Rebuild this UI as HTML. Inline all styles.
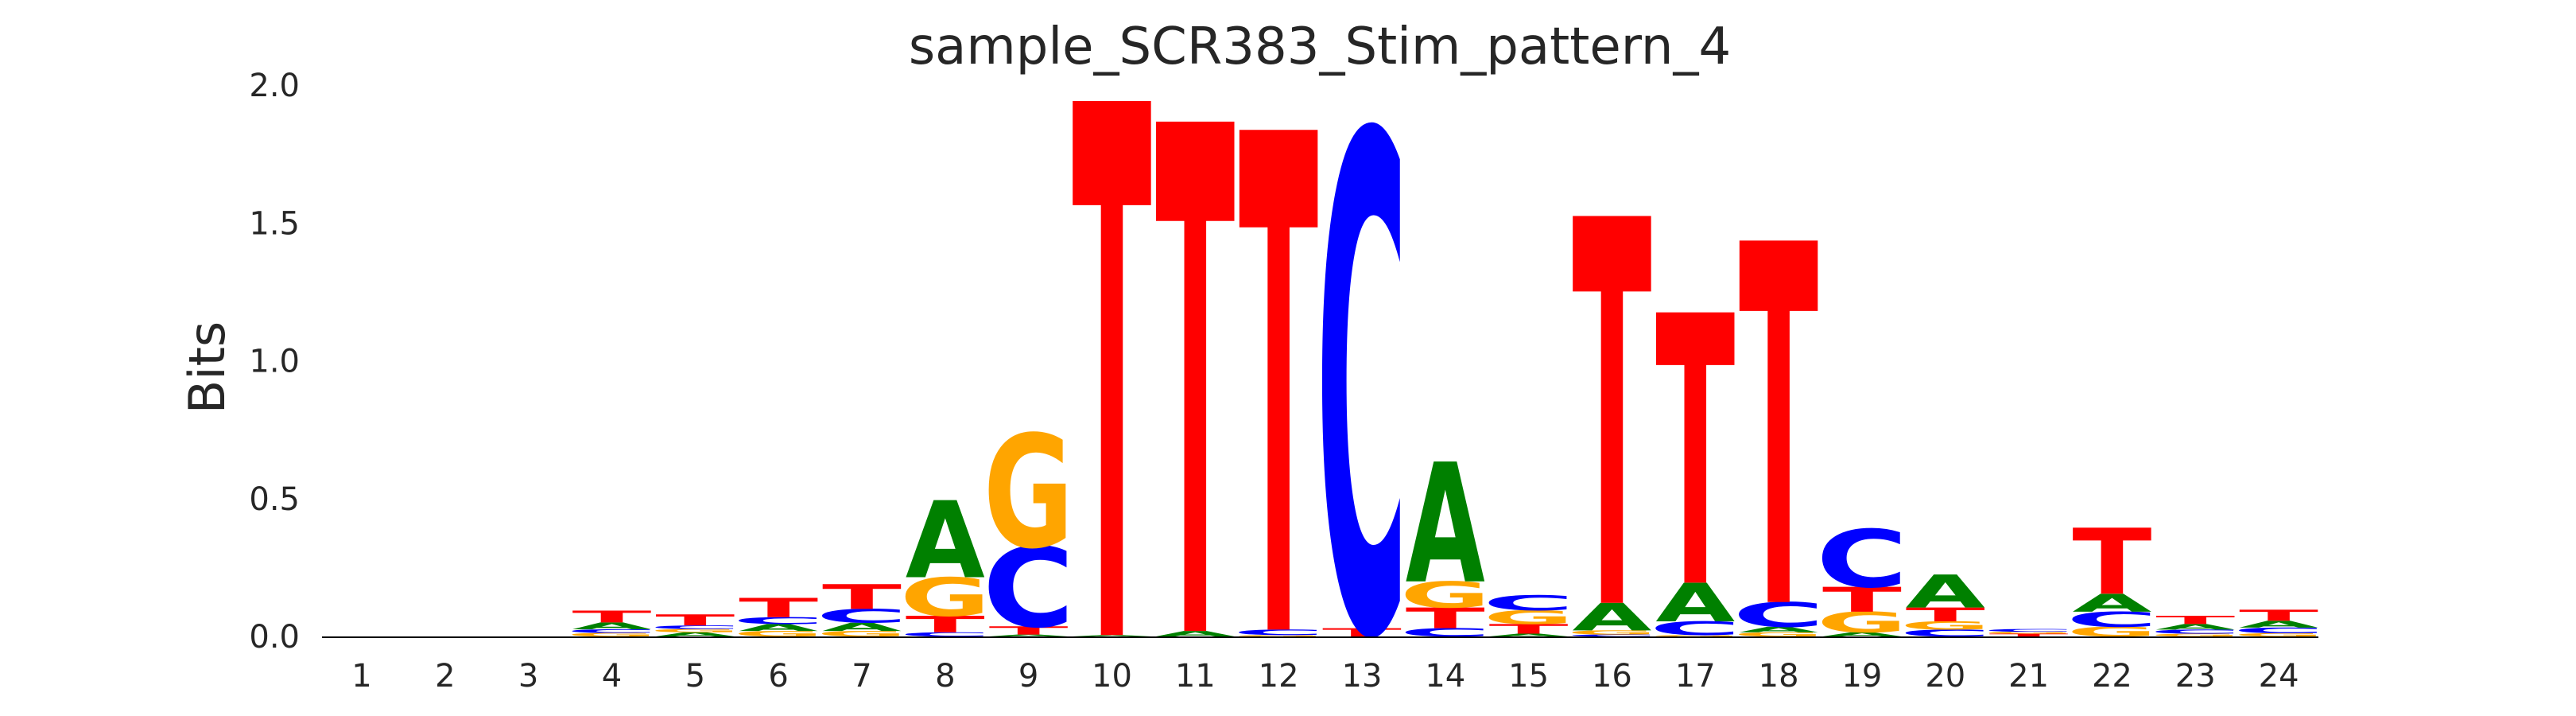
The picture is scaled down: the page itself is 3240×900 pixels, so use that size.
<!DOCTYPE html>
<html><head><meta charset="utf-8"><style>
html,body{margin:0;padding:0;background:#fff;overflow:hidden;width:3240px;height:900px;}
svg{display:block;}
svg text{font-family:"DejaVu Sans","Liberation Sans",sans-serif;}
</style></head><body>
<svg id="chart" width="3240" height="900" viewBox="0 0 3240 900" xmlns="http://www.w3.org/2000/svg">
<rect width="3240" height="900" fill="#fff"/>
<text x="1660" y="80" font-size="64" fill="#262626" text-anchor="middle">sample_SCR383_Stim_pattern_4</text>
<text transform="translate(282,462) rotate(-90)" font-size="62" fill="#262626" text-anchor="middle">Bits</text>
<g id="yticks"></g>
<g id="xticks"></g>
<g id="marks"></g>
<line x1="405" y1="801" x2="2916" y2="801" stroke="#000" stroke-width="2"/>
</svg>
<script>
const positions = [1,2,3,4,5,6,7,8,9,10,11,12,13,14,15,16,17,18,19,20,21,22,23,24];
const yTickValues = [0,0.5,1,1.5,2];
const yTickLabels = ["0.0","0.5","1.0","1.5","2.0"];
// stacks bottom->top: [letter, bits]
const col1 = [], col2 = [], col3 = [];
const col4 = [["G",0.013],["C",0.013],["A",0.025],["T",0.043]];
const col5 = [["A",0.015],["G",0.012],["C",0.013],["T",0.04]];
const col6 = [["G",0.02],["A",0.025],["C",0.025],["T",0.07]];
const col7 = [["G",0.02],["A",0.03],["C",0.05],["T",0.09]];
const col8 = [["C",0.015],["T",0.06],["G",0.14],["A",0.28]];
const col9 = [["A",0.007],["T",0.03],["C",0.29],["G",0.41]];
const col10 = [["A",0.005],["T",1.94]];
const col11 = [["A",0.02],["T",1.85]];
const col12 = [["G",0.005],["C",0.02],["T",1.815]];
const col13 = [["T",0.03],["C",1.805]];
const col14 = [["C",0.03],["T",0.075],["G",0.095],["A",0.435]];
const col15 = [["A",0.01],["T",0.035],["G",0.05],["C",0.055]];
const col16 = [["C",0.007],["G",0.015],["A",0.1],["T",1.405]];
const col17 = [["G",0.005],["C",0.05],["A",0.14],["T",0.982]];
const col18 = [["G",0.015],["A",0.02],["C",0.09],["T",1.313]];
const col19 = [["A",0.015],["G",0.075],["T",0.09],["C",0.21]];
const col20 = [["C",0.025],["G",0.03],["T",0.05],["A",0.12]];
const col21 = [["T",0.01],["G",0.007],["C",0.01]];
const col22 = [["G",0.035],["C",0.055],["A",0.065],["T",0.24]];
const col23 = [["G",0.01],["C",0.015],["A",0.02],["T",0.03]];
const col24 = [["G",0.012],["C",0.02],["A",0.025],["T",0.04]];
const columns = [col1,col2,col3,col4,col5,col6,col7,col8,col9,col10,col11,col12,col13,col14,col15,col16,col17,col18,col19,col20,col21,col22,col23,col24];

const colors = {A:"#008000",C:"#0000ff",G:"#ffa500",T:"#ff0000"};
const NS = "http://www.w3.org/2000/svg";
const baseY = 800, bitPx = 346.5;
function yScale(v){ return baseY - v*bitPx; }
function xScale(p){ return 455 + (p-1)*104.83; }
const colW = 100;

const yt = document.getElementById('yticks');
yTickValues.forEach((v,i)=>{
  const t = document.createElementNS(NS,'text');
  
  
  t.setAttribute('x',377); t.setAttribute('y',yScale(v)+14);
  t.setAttribute('font-size','40'); t.setAttribute('fill','#262626');
  t.setAttribute('text-anchor','end');
  t.textContent = yTickLabels[i];
  yt.appendChild(t);
});
const xt = document.getElementById('xticks');
positions.forEach(p=>{
  const t = document.createElementNS(NS,'text');
  
  
  t.setAttribute('x',xScale(p)); t.setAttribute('y',863);
  t.setAttribute('font-size','40'); t.setAttribute('fill','#262626');
  t.setAttribute('text-anchor','middle');
  t.textContent = String(p);
  xt.appendChild(t);
});

const marks = document.getElementById('marks');
const bboxCache = {};
function glyphBox(L){
  if(bboxCache[L]) return bboxCache[L];
  const t = document.createElementNS(NS,'text');
  t.setAttribute('font-size','100'); t.setAttribute('font-weight','bold');
  t.setAttribute('x',0); t.setAttribute('y',0);
  t.textContent = L;
  marks.appendChild(t);
  const b = t.getBBox();
  marks.removeChild(t);
  const box = {x:b.x+ (L==="A"||L==="T"?0:5), w:b.width-(L==="A"||L==="T"?0:10), top:-73, h:73};
  bboxCache[L] = box;
  return box;
}
columns.forEach((stack,i)=>{
  let acc = 0;
  const cx = xScale(positions[i]);
  stack.forEach(([L,v])=>{
    const y0 = yScale(acc), y1 = yScale(acc+v);
    acc += v;
    const h = y0 - y1;
    if(h <= 0) return;
    const b = glyphBox(L);
    const sx = colW / b.w, sy = h / b.h;
    const t = document.createElementNS(NS,'text');
    
    
    t.setAttribute('font-size','100'); t.setAttribute('font-weight','bold');
    t.setAttribute('fill',colors[L]);
    t.setAttribute('x',0); t.setAttribute('y',0);
    t.setAttribute('transform',`translate(${cx-colW/2},${y0}) scale(${sx},${sy}) translate(${-b.x},0)`);
    t.textContent = L;
    marks.appendChild(t);
  });
});
</script>
</body></html>
